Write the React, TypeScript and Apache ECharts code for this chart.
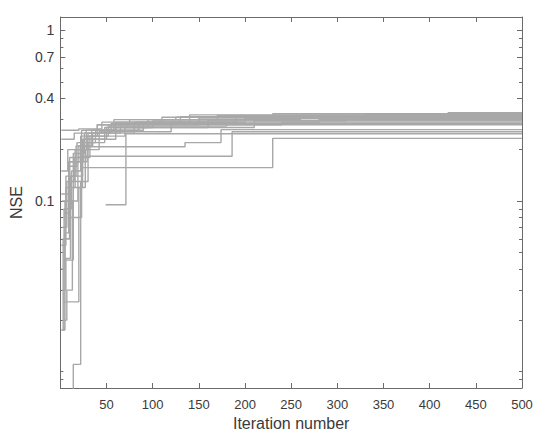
import React, { useEffect, useRef } from "react";
import * as echarts from "echarts";

// Iteration at which the best NSE improved, and the new best NSE value
const run01 = [[1, 0.26], [20, 0.265], [45, 0.29], [110, 0.31], [230, 0.325], [420, 0.33]];
const run02 = [[2, 0.0175], [4, 0.09], [12, 0.15], [22, 0.24], [40, 0.28], [75, 0.3], [170, 0.318], [350, 0.325]];
const run03 = [[1, 0.055], [6, 0.12], [16, 0.2], [28, 0.26], [60, 0.29], [140, 0.32]];
const run04 = [[13, 0.007], [14, 0.011], [22, 0.13], [30, 0.22], [48, 0.27], [95, 0.3], [260, 0.318]];
const run05 = [[1, 0.04], [5, 0.065], [9, 0.17], [20, 0.21], [35, 0.25], [80, 0.29], [190, 0.315]];
const run06 = [[3, 0.0175], [5, 0.1], [14, 0.19], [26, 0.25], [55, 0.285], [130, 0.312]];
const run07 = [[2, 0.03], [6, 0.046], [11, 0.14], [24, 0.23], [50, 0.27], [100, 0.295], [310, 0.31]];
const run08 = [[1, 0.23], [15, 0.25], [40, 0.28], [150, 0.307]];
const run09 = [[4, 0.085], [9, 0.16], [18, 0.22], [38, 0.26], [85, 0.29], [200, 0.305]];
const run10 = [[3, 0.0256], [20, 0.12], [27, 0.2], [42, 0.255], [120, 0.29], [280, 0.3]];
const run11 = [[2, 0.07], [7, 0.13], [15, 0.18], [32, 0.24], [70, 0.27], [160, 0.298]];
const run12 = [[1, 0.11], [10, 0.17], [25, 0.23], [60, 0.27], [210, 0.295]];
const run13 = [[1, 0.15], [8, 0.2], [30, 0.25], [65, 0.28], [240, 0.29]];
const run14 = [[2, 0.1], [6, 0.14], [17, 0.21], [34, 0.26], [90, 0.285]];
const run15 = [[4, 0.02], [7, 0.03], [13, 0.1], [19, 0.17], [29, 0.24], [52, 0.275], [180, 0.28]];
const run16 = [[1, 0.0175], [3, 0.06], [10, 0.18], [23, 0.26], [58, 0.3], [125, 0.31], [330, 0.322]];
const run17 = [[3, 0.06], [10, 0.13], [23, 0.208], [135, 0.22], [174, 0.262]];
const run18 = [[6, 0.045], [14, 0.12], [24, 0.183], [186, 0.255]];
const run19 = [[8, 0.08], [23, 0.157], [230, 0.233]];
const run20 = [[49, 0.095], [71, 0.248]];

const runs = [run01, run02, run03, run04, run05, run06, run07, run08, run09, run10,
  run11, run12, run13, run14, run15, run16, run17, run18, run19, run20];

const lastIteration = 500;
const xTicks = [0, 50, 100, 150, 200, 250, 300, 350, 400, 450, 500];
const yMajorTicks = [0.1, 0.4, 0.7, 1];
const yMinorTicks = [0.008, 0.009, 0.01, 0.02, 0.03, 0.04, 0.05, 0.06, 0.07, 0.08, 0.09,
  0.2, 0.3, 0.5, 0.6, 0.8, 0.9];

const AXIS_COLOR = "#6b6b6b";
const TEXT_COLOR = "#3a3a3a";
const LINE_COLOR = "#a8a8a8";
const FONT = "'Liberation Sans', Arial, sans-serif";

export default function App() {
  const ref = useRef<HTMLDivElement>(null);
  useEffect(() => {
    if (!ref.current) return;
    document.body.style.margin = "0";
    document.body.style.overflow = "hidden";
    const chart = echarts.init(ref.current, null, { renderer: "svg" });
    const yBase = {
      type: "log" as const,
      logBase: 10,
      min: 0.008,
      max: 1.2,
      splitLine: { show: false },
    };
    const xBase = {
      type: "value" as const,
      min: xTicks[0],
      max: xTicks[xTicks.length - 1],
      interval: 50,
      splitLine: { show: false },
      axisLine: { lineStyle: { color: AXIS_COLOR, width: 1 } },
      axisTick: { inside: true, length: 5, lineStyle: { color: AXIS_COLOR } },
    };
    chart.setOption({
      animation: false,
      backgroundColor: "#ffffff",
      grid: { left: 52, right: 28, top: 17, bottom: 55, containLabel: false },
      xAxis: [
        {
          ...xBase,
          position: "bottom",
          name: "Iteration number",
          nameLocation: "middle",
          nameGap: 27,
          nameTextStyle: { color: TEXT_COLOR, fontSize: 16, fontFamily: FONT },
          axisLabel: { showMinLabel: false, color: TEXT_COLOR, fontSize: 13, fontFamily: FONT, margin: 10 },
        },
        {
          ...xBase,
          position: "top",
          axisLabel: { show: false },
        },
      ],
      yAxis: [
        {
          ...yBase,
          position: "left",
          name: "NSE",
          nameLocation: "middle",
          nameGap: 31,
          nameTextStyle: { color: TEXT_COLOR, fontSize: 16, fontFamily: FONT },
          axisLine: { show: true, lineStyle: { color: AXIS_COLOR, width: 1 } },
          axisTick: { show: true, inside: true, length: 5, customValues: yMajorTicks, lineStyle: { color: AXIS_COLOR } },
          axisLabel: {
            customValues: yMajorTicks,
            color: TEXT_COLOR,
            fontSize: 14,
            fontFamily: FONT,
            margin: 6,
            formatter: (v: number) => String(+v.toPrecision(3)),
          },
        },
        {
          ...yBase,
          position: "left",
          axisLine: { show: false },
          axisTick: { show: true, inside: true, length: 3, customValues: yMinorTicks, lineStyle: { color: AXIS_COLOR } },
          axisLabel: { show: false },
        },
        {
          ...yBase,
          position: "right",
          axisLine: { show: true, lineStyle: { color: AXIS_COLOR, width: 1 } },
          axisTick: { show: true, inside: true, length: 5, customValues: yMajorTicks, lineStyle: { color: AXIS_COLOR } },
          axisLabel: { show: false },
        },
        {
          ...yBase,
          position: "right",
          axisLine: { show: false },
          axisTick: { show: true, inside: true, length: 3, customValues: yMinorTicks, lineStyle: { color: AXIS_COLOR } },
          axisLabel: { show: false },
        },
      ],
      series: runs.map((run, i) => ({
        name: "run" + (i + 1),
        type: "line",
        xAxisIndex: 0,
        yAxisIndex: 0,
        step: "end",
        showSymbol: false,
        symbol: "none",
        clip: true,
        lineStyle: { color: LINE_COLOR, width: 1.4 },
        data: [...run, [lastIteration, run[run.length - 1][1]]],
      })),
    });
    return () => chart.dispose();
  }, []);
  return <div ref={ref} style={{ width: 550, height: 443 }} />;
}
